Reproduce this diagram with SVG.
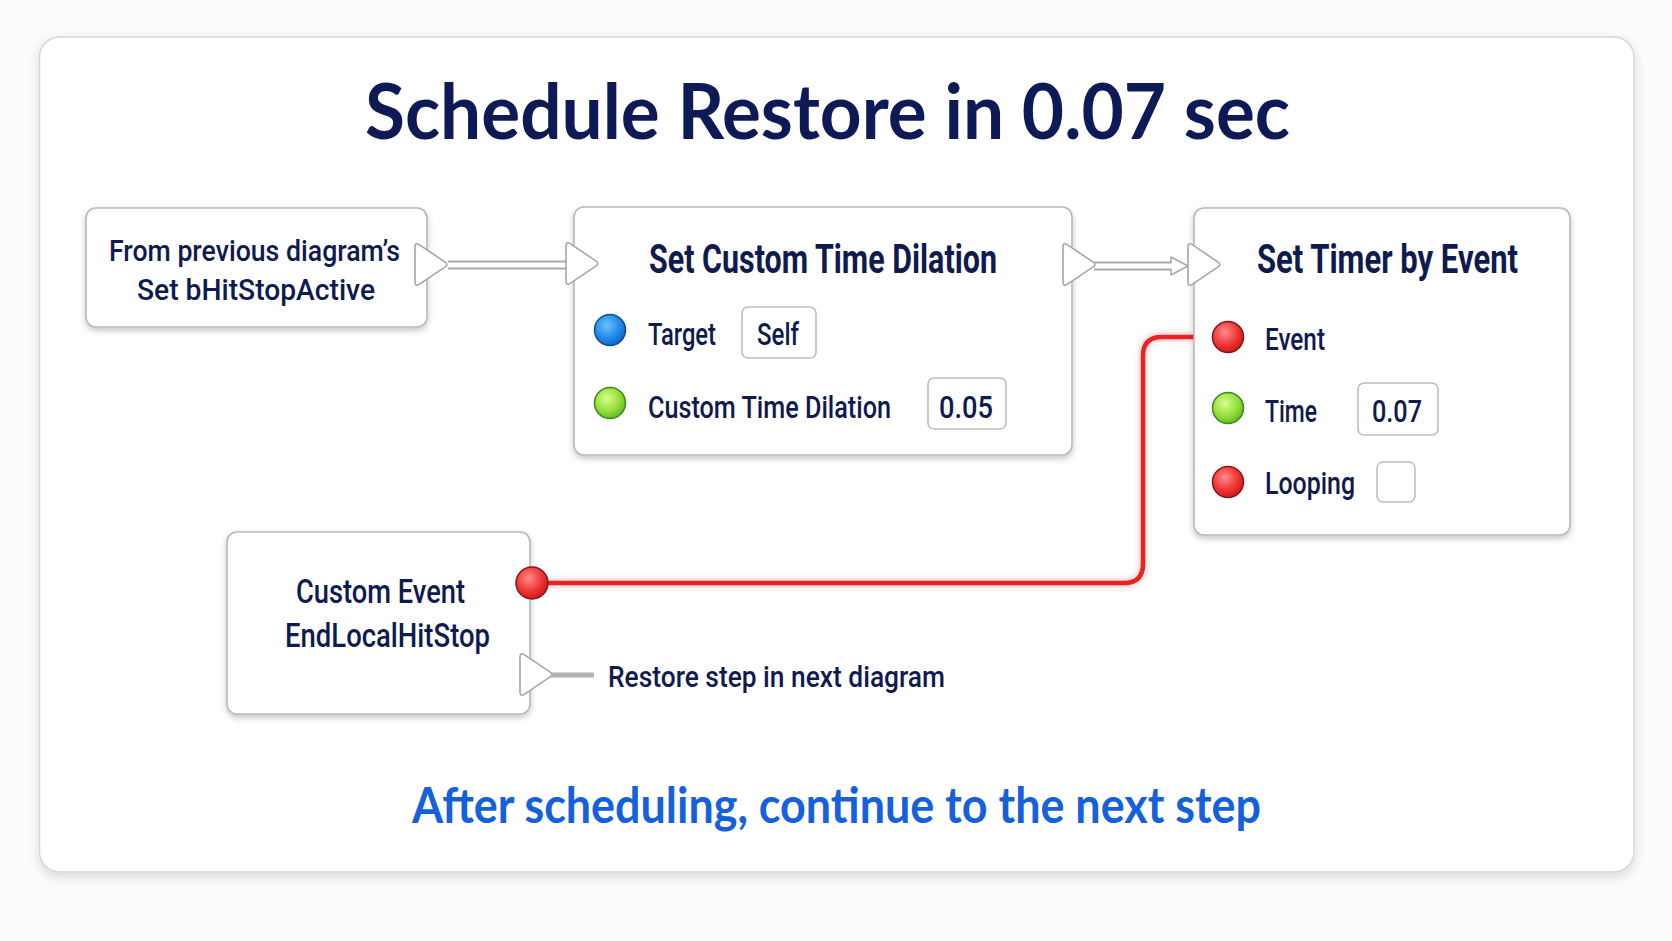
<svg xmlns="http://www.w3.org/2000/svg" xmlns:xlink="http://www.w3.org/1999/xlink" width="1672" height="941" viewBox="0 0 1672 941">
<style>
.node{fill:#ffffff;stroke:#b9b9b9;stroke-width:1.6;filter:url(#ns)}
.lbl{font-family:Roboto,"Liberation Sans",Arial,sans-serif;fill:#0f1a4f;font-weight:500}
.ttl{font-family:Roboto,"Liberation Sans",Arial,sans-serif;fill:#0f1a4f;font-weight:700;font-size:40px}
.row{font-size:31px}
.val{fill:#ffffff;stroke:#bdbdbd;stroke-width:1.6}
.exec{fill:#ffffff;stroke:#a6a6a6;stroke-width:1.6;stroke-linejoin:round}
.blue{fill:url(#gBlue);stroke:#134c8f;stroke-width:1.5}
.green{fill:url(#gGreen);stroke:#3c8a1c;stroke-width:1.5}
.red{fill:url(#gRed);stroke:#8d1414;stroke-width:1.5}
</style>
<defs>
<filter id="cs" x="-5%" y="-5%" width="110%" height="115%"><feDropShadow dx="0" dy="4" stdDeviation="6" flood-color="#000" flood-opacity="0.14"/></filter>
<filter id="ns" x="-10%" y="-10%" width="120%" height="130%"><feDropShadow dx="0" dy="3" stdDeviation="3" flood-color="#000" flood-opacity="0.22"/></filter>
<filter id="glow" x="-5%" y="-20%" width="110%" height="140%"><feGaussianBlur stdDeviation="2.5"/></filter>
<radialGradient id="gBlue" cx="0.4" cy="0.35" r="0.7"><stop offset="0" stop-color="#6cc0ff"/><stop offset="0.6" stop-color="#1f8ae8"/><stop offset="1" stop-color="#0c5fc0"/></radialGradient>
<radialGradient id="gGreen" cx="0.4" cy="0.35" r="0.7"><stop offset="0" stop-color="#d8ff8a"/><stop offset="0.6" stop-color="#93de3a"/><stop offset="1" stop-color="#5cb41e"/></radialGradient>
<radialGradient id="gRed" cx="0.4" cy="0.35" r="0.7"><stop offset="0" stop-color="#ff8a8a"/><stop offset="0.6" stop-color="#ee3434"/><stop offset="1" stop-color="#c41818"/></radialGradient>
<path id="pin" d="M0,5 Q0,0 4.2,2.7 L29.8,19.8 Q34,22.5 29.8,25.2 L4.2,42.3 Q0,45 0,40 Z"/>
</defs>
<rect width="1672" height="941" fill="#fcfcfc"/>
<rect x="39.5" y="37" width="1594.5" height="835" rx="20" fill="#ffffff" stroke="#d6d6d6" stroke-width="1.5" filter="url(#cs)"/>
<text x="365" y="139" font-family="Lato,'Open Sans','Liberation Sans',sans-serif" font-weight="700" font-size="77" fill="#0e1a56" textLength="925" lengthAdjust="spacingAndGlyphs">Schedule Restore in 0.07 sec</text>

<g id="connectors">
<line x1="448" y1="265" x2="568" y2="265" stroke="#a9a9a9" stroke-width="9"/>
<line x1="448" y1="265" x2="568" y2="265" stroke="#ffffff" stroke-width="5"/>
<line x1="1094" y1="266" x2="1174" y2="266" stroke="#a9a9a9" stroke-width="9"/>
<polygon points="1171,257 1188,266 1171,275" fill="#ffffff" stroke="#a9a9a9" stroke-width="1.6" stroke-linejoin="round"/>
<line x1="1094" y1="266" x2="1174" y2="266" stroke="#ffffff" stroke-width="5"/>
<path d="M548,583 H1124 Q1143,583 1143,564 V356 Q1143,337 1162,337 H1214" fill="none" stroke="#ff5050" stroke-width="9" stroke-opacity="0.25" filter="url(#glow)"/>
<path d="M548,583 H1124 Q1143,583 1143,564 V356 Q1143,337 1162,337 H1214" fill="none" stroke="#e62424" stroke-width="4.5"/>
<line x1="550" y1="675" x2="594" y2="675" stroke="#b4b4b4" stroke-width="5"/>
</g>

<g id="node-from-previous">
<rect class="node" x="86" y="208" width="341" height="119" rx="10"/>
<text class="lbl" x="109" y="261" font-size="30" textLength="291" lengthAdjust="spacingAndGlyphs">From previous diagram’s</text>
<text class="lbl" x="137" y="300" font-size="30" textLength="238" lengthAdjust="spacingAndGlyphs">Set bHitStopActive</text>
<use xlink:href="#pin" href="#pin" class="exec" x="415" y="242"/>
</g>

<g id="node-set-custom-time-dilation">
<rect class="node" x="574" y="207" width="498" height="248" rx="10"/>
<use xlink:href="#pin" href="#pin" class="exec" x="566" y="241"/>
<use xlink:href="#pin" href="#pin" class="exec" x="1063" y="242"/>
<text class="ttl" x="649" y="273" textLength="348" lengthAdjust="spacingAndGlyphs">Set Custom Time Dilation</text>
<circle class="blue" cx="610" cy="330" r="15.5"/>
<text class="lbl row" x="648" y="345" textLength="68" lengthAdjust="spacingAndGlyphs">Target</text>
<rect class="val" x="742" y="307" width="74" height="51" rx="6"/>
<text class="lbl row" x="757" y="345" textLength="42" lengthAdjust="spacingAndGlyphs">Self</text>
<circle class="green" cx="610" cy="403" r="15.5"/>
<text class="lbl row" x="648" y="418" textLength="243" lengthAdjust="spacingAndGlyphs">Custom Time Dilation</text>
<rect class="val" x="928" y="378" width="78" height="51" rx="6"/>
<text class="lbl row" x="939" y="418" textLength="54" lengthAdjust="spacingAndGlyphs">0.05</text>
</g>

<g id="node-set-timer-by-event">
<rect class="node" x="1194" y="208" width="376" height="327" rx="10"/>
<use xlink:href="#pin" href="#pin" class="exec" x="1188" y="242"/>
<text class="ttl" x="1257" y="273" textLength="261" lengthAdjust="spacingAndGlyphs">Set Timer by Event</text>
<circle class="red" cx="1228" cy="337" r="15.5"/>
<text class="lbl row" x="1265" y="350" textLength="60" lengthAdjust="spacingAndGlyphs">Event</text>
<circle class="green" cx="1228" cy="408" r="15.5"/>
<text class="lbl row" x="1265" y="422" textLength="52" lengthAdjust="spacingAndGlyphs">Time</text>
<rect class="val" x="1358" y="383" width="80" height="52" rx="6"/>
<text class="lbl row" x="1372" y="422" textLength="50" lengthAdjust="spacingAndGlyphs">0.07</text>
<circle class="red" cx="1228" cy="482" r="15.5"/>
<text class="lbl row" x="1265" y="494" textLength="90" lengthAdjust="spacingAndGlyphs">Looping</text>
<rect class="val" x="1377" y="462" width="38" height="40" rx="6"/>
</g>

<g id="node-custom-event">
<rect class="node" x="227" y="532" width="303" height="182" rx="10"/>
<text class="lbl" x="296" y="603" font-size="33" textLength="169" lengthAdjust="spacingAndGlyphs">Custom Event</text>
<text class="lbl" x="285" y="647" font-size="33" textLength="205" lengthAdjust="spacingAndGlyphs">EndLocalHitStop</text>
<circle class="red" cx="532" cy="583" r="16"/>
<use xlink:href="#pin" href="#pin" class="exec" x="520" y="652"/>
</g>

<text class="lbl" x="608" y="687" font-size="30" textLength="337" lengthAdjust="spacingAndGlyphs">Restore step in next diagram</text>
<text x="412" y="823" font-family="Lato,'Open Sans','Liberation Sans',sans-serif" font-weight="700" font-size="50" fill="#1560dc" textLength="849" lengthAdjust="spacingAndGlyphs">After scheduling, continue to the next step</text>
</svg>
